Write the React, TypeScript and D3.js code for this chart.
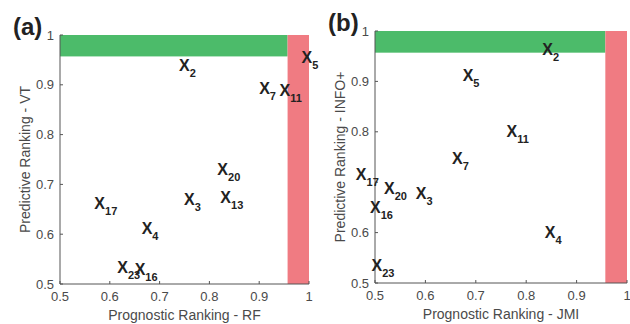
import * as d3 from "d3";

// panel (a): RF vs VT
const featuresA = ["2", "5", "7", "11", "20", "13", "3", "17", "4", "23", "16"];
const rfScore = [0.739, 0.985, 0.9, 0.941, 0.816, 0.822, 0.749, 0.569, 0.664, 0.615, 0.65];
const vtScore = [0.938, 0.955, 0.893, 0.888, 0.731, 0.674, 0.669, 0.662, 0.612, 0.533, 0.529];
// panel (b): JMI vs INFO+
const featuresB = ["2", "5", "11", "7", "17", "20", "3", "16", "4", "23"];
const jmiScore = [0.832, 0.674, 0.761, 0.653, 0.462, 0.518, 0.581, 0.49, 0.837, 0.493];
const infoScore = [0.963, 0.911, 0.8, 0.747, 0.715, 0.688, 0.677, 0.65, 0.6, 0.534];
const ticks = [0.5, 0.6, 0.7, 0.8, 0.9, 1];
const threshold = 0.957;

const font = "'Liberation Sans', Arial, sans-serif";

type PanelProps = {
  tag: string;
  features: string[];
  xs: number[];
  ys: number[];
  xLabel: string;
  yLabel: string;
  hiddenY?: number[];
  left: number;
  right: number;
  top: number;
  bottom: number;
};

const Panel = ({ tag, features, xs, ys, xLabel, yLabel, hiddenY = [], left, right, top, bottom }: PanelProps) => {
  const x = d3.scaleLinear().domain([0.5, 1]).range([left, right]);
  const y = d3.scaleLinear().domain([0.5, 1]).range([bottom, top]);
  const axisColor = "#555";
  return (
    <g>
      {/* zones */}
      <rect x={x(0.5)} y={y(1)} width={x(threshold) - x(0.5)} height={y(threshold) - y(1)} fill="#4cbb6a" />
      <rect x={x(threshold)} y={y(1)} width={x(1) - x(threshold)} height={y(0.5) - y(1)} fill="#f07b82" />

      {/* axes */}
      <line x1={left} x2={right} y1={bottom} y2={bottom} stroke={axisColor} strokeWidth={1} />
      <line x1={left} x2={left} y1={top} y2={bottom} stroke={axisColor} strokeWidth={1} />
      {ticks.map((t) => (
        <g key={"x" + t}>
          <line x1={x(t)} x2={x(t)} y1={bottom} y2={bottom - 3} stroke={axisColor} />
          <text x={x(t)} y={bottom + 17} textAnchor="middle" fontSize={13} fill="#4a4a4a" fontFamily={font}>
            {d3.format("~g")(t)}
          </text>
        </g>
      ))}
      {ticks.map((t) => (
        <g key={"y" + t}>
          <line x1={left} x2={left + 3} y1={y(t)} y2={y(t)} stroke={axisColor} />
          {!hiddenY.includes(t) && (
            <text x={left - 6} y={y(t)} dy="0.35em" textAnchor="end" fontSize={13} fill="#4a4a4a" fontFamily={font}>
              {d3.format("~g")(t)}
            </text>
          )}
        </g>
      ))}
      <text x={(left + right) / 2} y={bottom + 36} textAnchor="middle" fontSize={14} fill="#4a4a4a" fontFamily={font}>
        {xLabel}
      </text>
      <text
        transform={`translate(${left - 30},${(top + bottom) / 2}) rotate(-90)`}
        textAnchor="middle"
        fontSize={14}
        fill="#4a4a4a"
        fontFamily={font}
      >
        {yLabel}
      </text>
      <text x={left - 47} y={top} fontSize={24} fontWeight="bold" fill="#222" fontFamily={font}>
        {tag}
      </text>

      {/* feature labels */}
      {features.map((f, i) => (
        <text
          key={f}
          x={x(xs[i])}
          y={y(ys[i])}
          dy="0.35em"
          fontSize={16}
          fontWeight="bold"
          fill="#222"
          fontFamily={font}
        >
          X
          <tspan fontSize={11} dy="6">
            {f}
          </tspan>
        </text>
      ))}
    </g>
  );
};

export default function App() {
  return (
    <svg width={630} height={324} style={{ display: "block", position: "absolute", left: 0, top: 0 }}>
      <rect width={630} height={324} fill="#fff" />
      <Panel
        tag="(a)"
        features={featuresA}
        xs={rfScore}
        ys={vtScore}
        xLabel="Prognostic Ranking - RF"
        yLabel="Predictive Ranking - VT"
        left={60}
        right={309}
        top={35}
        bottom={284}
      />
      <Panel
        tag="(b)"
        features={featuresB}
        xs={jmiScore}
        ys={infoScore}
        xLabel="Prognostic Ranking - JMI"
        yLabel="Predictive Ranking - INFO+"
        hiddenY={[0.7]}
        left={375}
        right={627}
        top={31}
        bottom={283}
      />
    </svg>
  );
}
